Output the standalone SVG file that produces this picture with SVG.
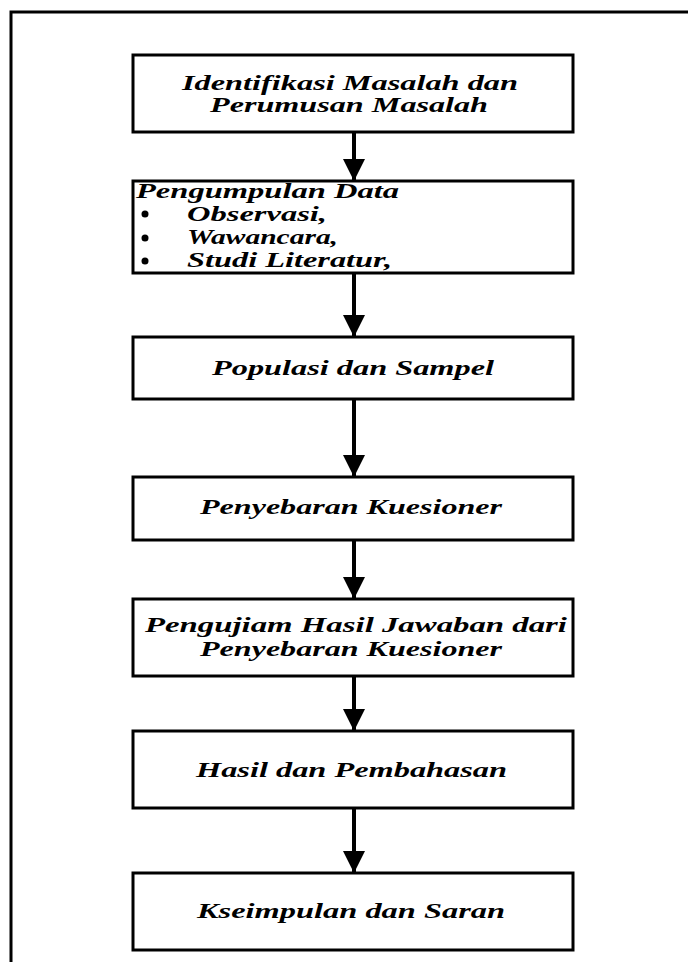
<svg xmlns="http://www.w3.org/2000/svg" width="688" height="962" viewBox="0 0 688 962">
<style>
.frame{fill:none;stroke:#000;stroke-width:3}
.box{fill:#fff;stroke:#000;stroke-width:3}
.t{font-family:"Liberation Serif","Times New Roman",serif;font-weight:bold;font-style:italic;font-size:21px;fill:#000}
.c{text-anchor:middle}
.shaft{stroke:#000;stroke-width:4;fill:none}
</style>
<defs>
<marker id="ah" markerUnits="userSpaceOnUse" markerWidth="24" markerHeight="22" refX="22" refY="11" orient="auto" viewBox="0 0 22 22">
<path d="M0,0 L22,11 L0,22 Z" fill="#000"/>
</marker>
</defs>
<rect width="688" height="962" fill="#fff"/>
<path class="frame" d="M11,962 L11,12 L688,12"/>
<g id="connectors">
<line class="shaft" x1="354" y1="132" x2="354" y2="181" marker-end="url(#ah)"/>
<line class="shaft" x1="354" y1="273" x2="354" y2="337" marker-end="url(#ah)"/>
<line class="shaft" x1="354" y1="399" x2="354" y2="477" marker-end="url(#ah)"/>
<line class="shaft" x1="354" y1="540" x2="354" y2="599" marker-end="url(#ah)"/>
<line class="shaft" x1="354" y1="676" x2="354" y2="731" marker-end="url(#ah)"/>
<line class="shaft" x1="354" y1="808" x2="354" y2="873" marker-end="url(#ah)"/>
</g>
<g id="n1">
<rect class="box" x="133" y="55" width="440" height="77"/>
<text class="t" x="182" y="90" textLength="336" lengthAdjust="spacingAndGlyphs">Identifikasi Masalah dan</text>
<text class="t" x="210" y="112" textLength="278" lengthAdjust="spacingAndGlyphs">Perumusan Masalah</text>
</g>
<g id="n2">
<rect class="box" x="133" y="181" width="440" height="92"/>
<text class="t" x="136" y="198" textLength="263" lengthAdjust="spacingAndGlyphs">Pengumpulan Data</text>
<circle cx="145" cy="214" r="3.5"/>
<text class="t" x="187" y="221" textLength="140" lengthAdjust="spacingAndGlyphs">Observasi,</text>
<circle cx="145" cy="238" r="3.5"/>
<text class="t" x="187" y="244" textLength="151" lengthAdjust="spacingAndGlyphs">Wawancara,</text>
<circle cx="145" cy="261" r="3.5"/>
<text class="t" x="187" y="267" textLength="205" lengthAdjust="spacingAndGlyphs">Studi Literatur,</text>
</g>
<g id="n3">
<rect class="box" x="133" y="337" width="440" height="62"/>
<text class="t" x="212" y="375" textLength="282" lengthAdjust="spacingAndGlyphs">Populasi dan Sampel</text>
</g>
<g id="n4">
<rect class="box" x="133" y="477" width="440" height="63"/>
<text class="t" x="200" y="514" textLength="302" lengthAdjust="spacingAndGlyphs">Penyebaran Kuesioner</text>
</g>
<g id="n5">
<rect class="box" x="133" y="599" width="440" height="77"/>
<text class="t" x="145" y="632" textLength="422" lengthAdjust="spacingAndGlyphs">Pengujiam Hasil Jawaban dari</text>
<text class="t" x="200" y="656" textLength="302" lengthAdjust="spacingAndGlyphs">Penyebaran Kuesioner</text>
</g>
<g id="n6">
<rect class="box" x="133" y="731" width="440" height="77"/>
<text class="t" x="196" y="777" textLength="311" lengthAdjust="spacingAndGlyphs">Hasil dan Pembahasan</text>
</g>
<g id="n7">
<rect class="box" x="133" y="873" width="440" height="77"/>
<text class="t" x="197" y="918" textLength="308" lengthAdjust="spacingAndGlyphs">Kseimpulan dan Saran</text>
</g>
</svg>
